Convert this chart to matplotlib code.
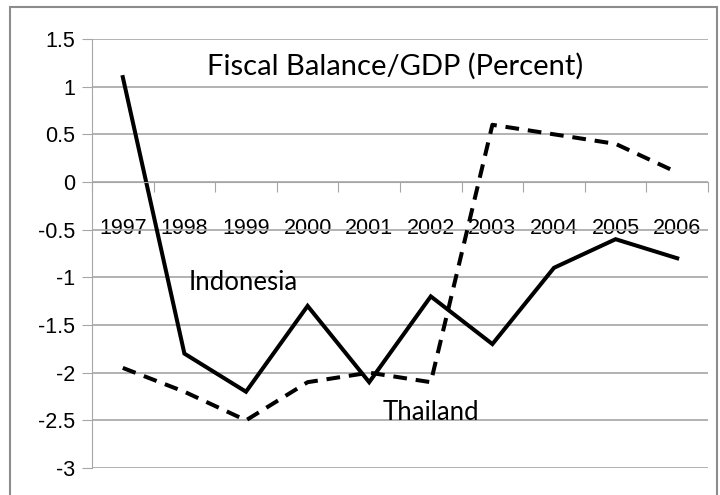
#!/usr/bin/env python3
"""Fiscal balance / GDP for Indonesia and Thailand, 1997-2006."""

import matplotlib
matplotlib.use("Agg")
import matplotlib.pyplot as plt
from matplotlib.patches import Rectangle

years = ["1997", "1998", "1999", "2000", "2001", "2002", "2003", "2004", "2005", "2006"]
indonesia = [1.1, -1.8, -2.2, -1.3, -2.1, -1.2, -1.7, -0.9, -0.6, -0.8]
thailand = [-1.95, -2.2, -2.5, -2.1, -2.0, -2.1, 0.6, 0.5, 0.4, 0.1]
y_ticks = [1.5, 1, 0.5, 0, -0.5, -1, -1.5, -2, -2.5, -3]
y_labels = ["1.5", "1", "0.5", "0", "-0.5", "-1", "-1.5", "-2", "-2.5", "-3"]

GRID = "#a6a6a6"
plt.rcParams["font.family"] = ["Liberation Sans", "DejaVu Sans"]

fig = plt.figure(figsize=(7.2, 4.95), dpi=100)
fig.patches.append(Rectangle((10 / 720, -0.01), 707 / 720, 1 - 7 / 495 + 0.01,
                             transform=fig.transFigure, fill=False,
                             edgecolor="#8c8c8c", linewidth=1.5))
ax = fig.add_axes([92 / 720, 1 - 468 / 495, 616 / 720, 429 / 495])

x = list(range(len(years)))
ax.plot(x, indonesia, color="black", linewidth=2.9, solid_joinstyle="miter")
ax.plot(x, thailand, color="black", linewidth=2.9, dashes=(3.4, 2.2))

ax.set_xlim(-0.5, len(years) - 0.5)
ax.set_ylim(-3, 1.5)

for s in ["top", "right"]:
    ax.spines[s].set_visible(False)
ax.spines["left"].set_color(GRID)
ax.spines["bottom"].set_position(("data", 0))
ax.spines["bottom"].set_color(GRID)

ax.set_yticks(y_ticks)
ax.set_yticklabels(y_labels, fontsize=15.5)
ax.tick_params(axis="y", length=7, color=GRID, pad=5)
ax.yaxis.grid(True, color=GRID, linewidth=1.2)
ax.set_axisbelow(True)

ax.set_xticks([i - 0.5 for i in range(len(years) + 1)])
ax.set_xticklabels([])
ax.set_xticks(x, minor=True)
ax.set_xticklabels(years, minor=True, fontsize=15.5)
ax.tick_params(axis="x", which="minor", length=0, pad=26)
ax.tick_params(axis="x", which="major", length=7, color=GRID)

ax.text(4.42, 1.21, "Fiscal Balance/GDP (Percent)", fontsize=21, ha="center", va="center",
        family=["Lato", "DejaVu Sans"])
ax.text(1.95, -1.05, "Indonesia", fontsize=18.5, ha="center", va="center",
        family=["Lato", "DejaVu Sans"])
ax.text(5.0, -2.42, "Thailand", fontsize=18.5, ha="center", va="center",
        family=["Lato", "DejaVu Sans"])

fig.savefig("out.png", dpi=100)
